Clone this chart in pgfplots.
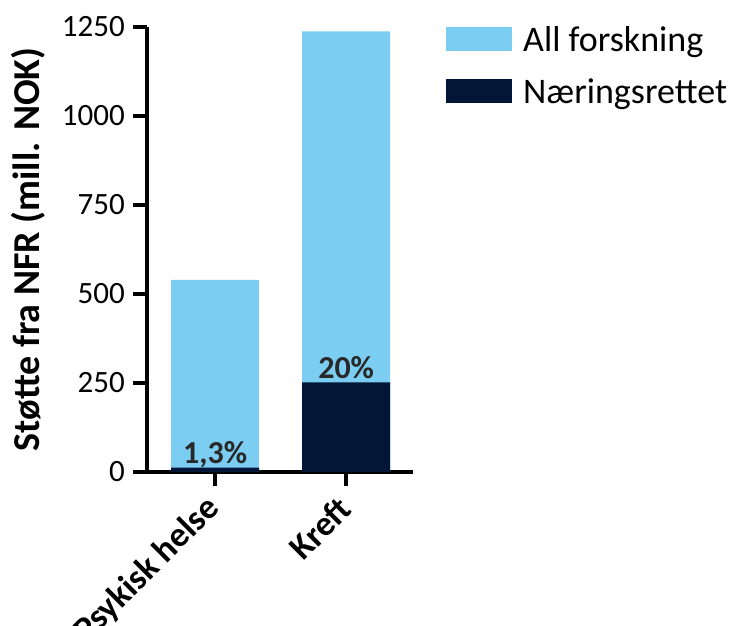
\documentclass[border=0pt]{standalone}
\usepackage{pgfplots}
\pgfplotsset{compat=1.18}
\usepackage{fontspec}
\setmainfont{Carlito}
\definecolor{lightb}{RGB}{124,205,242}
\definecolor{darkb}{RGB}{2,23,56}
\definecolor{labgray}{RGB}{40,40,40}
\begin{document}
\begin{tikzpicture}[x=1pt,y=1pt]
\useasboundingbox (0,0) rectangle (731,626);
\begin{axis}[
  at={(147pt,154pt)}, anchor=south west,
  scale only axis, width=266pt, height=445pt,
  ybar, bar width=88pt, bar shift=0pt,
  xmin=-0.52, xmax=1.51, ymin=0, ymax=1250,
  axis x line*=bottom, axis y line*=left,
  axis line style={line width=4pt, black},
  xtick={0,1}, xticklabels={Psykisk helse, Kreft},
  ytick={0,250,500,750,1000,1250},
  tick align=outside, major tick length=14pt,
  tick style={line width=4pt, black},
  /pgf/number format/assume math mode=true,
  /pgf/number format/1000 sep={},
  yticklabel style={font=\fontsize{31}{31}\selectfont, inner xsep=8pt},
  xticklabel style={font=\bfseries\fontsize{35}{35}\selectfont, anchor=east, inner sep=0pt, xshift=-1pt, yshift=-17pt, rotate=45},
  ylabel={Støtte fra NFR (mill. NOK)},
  ylabel style={font=\bfseries\fontsize{38}{38}\selectfont, at={(axis description cs:-0.447,0.5)}, anchor=center},
  legend style={at={(axis description cs:1.124,1.005)}, anchor=north west, draw=none, fill=none,
    font=\fontsize{36}{36}\selectfont, inner sep=0pt, row sep=21pt, column sep=9pt},
  legend cell align=left,
  legend image code/.code={\fill[#1] (0pt,-11pt) rectangle (66pt,13pt);},
]
\addplot[fill=lightb, draw=none] coordinates {(0,540) (1,1238)};
\addlegendentry{All forskning}
\addplot[fill=darkb, draw=none,
  nodes near coords, point meta=explicit symbolic,
  every node near coord/.append style={font=\bfseries\fontsize{32}{32}\selectfont, text=labgray, anchor=base, yshift=4pt, inner sep=0pt}]
  coordinates {(0,12) [1,3\%] (1,252) [20\%]};
\addlegendentry{Næringsrettet}
\end{axis}
\end{tikzpicture}
\end{document}
